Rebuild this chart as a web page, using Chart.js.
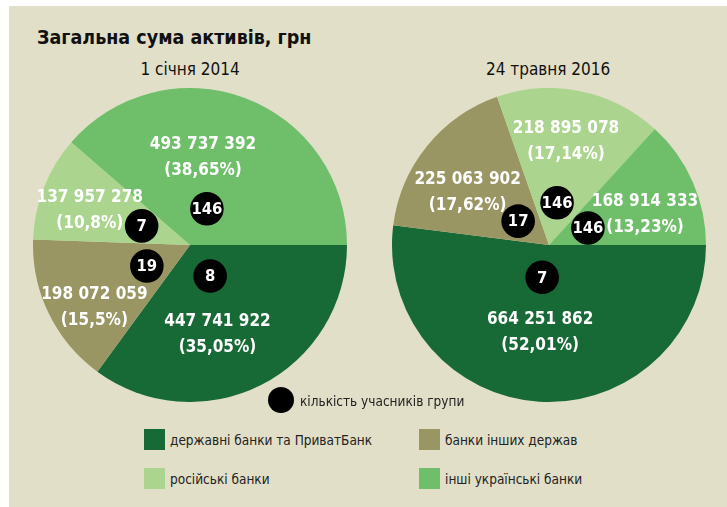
<!DOCTYPE html>
<html>
<head>
<meta charset="utf-8">
<script src="https://cdn.jsdelivr.net/npm/chart.js@4.4.0/dist/chart.umd.min.js"></script>
<style>
  body { margin: 0; background: #fff; width: 727px; height: 507px; overflow: hidden;
         font-family: "DejaVu Sans Condensed", "Liberation Sans Narrow", "DejaVu Sans", sans-serif; }
  #panel { position: absolute; left: 9px; top: 6px; width: 718px; height: 501px; background: #e1dfc8; }
  .txt { position: absolute; white-space: nowrap; color: #111; }
  .sq { position: absolute; width: 21px; height: 21px; }
  canvas { position: absolute; }
</style>
</head>
<body>
<div id="panel"></div>
<div class="txt" style="left:37px; top:28px; font-size:19.5px; line-height:20px; font-weight:bold;">Загальна сума активів, грн</div>
<div class="txt" id="sub1" style="top:61px; font-size:17px; line-height:17px;">1 січня 2014</div>
<div class="txt" id="sub2" style="top:61px; font-size:17px; line-height:17px;">24 травня 2016</div>

<canvas id="pie1" width="314" height="314" style="left:33px; top:88px;"></canvas>
<canvas id="pie2" width="314" height="314" style="left:392px; top:88px;"></canvas>

<div style="position:absolute; left:268px; top:387px; width:26px; height:26px; border-radius:50%; background:#000;"></div>
<div class="txt" style="left:300px; top:394px; font-size:13.5px; line-height:14px; color:#222;">кількість учасників групи</div>
<div id="legend"></div>

<script>
// categories and series
const categories = ['державні банки та ПриватБанк', 'банки інших держав', 'російські банки', 'інші українські банки'];
const colors = ['#176a36', '#9a9664', '#abd58e', '#6fbf6a'];
const assets2014 = [447741922, 198072059, 137957278, 493737392];
const shares2014 = ['35,05%', '15,5%', '10,8%', '38,65%'];
const members2014 = [8, 19, 7, 146];
const assets2016 = [664251862, 225063902, 218895078, 168914333];
const shares2016 = ['52,01%', '17,62%', '17,14%', '13,23%'];
const members2016 = [7, 17, 146, 146];

// where labels / member circles sit: [angle deg clockwise from 3 o'clock, distance px]
const labelPolar1 = [[73, 94], [147, 114], [199, 106], [278.5, 88]];
const circlePolar1 = [[57, 37], [154, 48], [201.6, 52], [295, 40]];
const labelPolar2 = [[95.8, 88], [213, 97], [279.3, 105], [342.6, 100.6]];
const circlePolar2 = [[102, 33], [217.7, 39], [280.8, 43], [336.4, 42.5]];

const FONT = '"DejaVu Sans Condensed", "Liberation Sans Narrow", "DejaVu Sans", sans-serif';

function fmt(n) {
    return String(n).replace(/\B(?=(\d{3})+(?!\d))/g, ' ');
}

// places the subtitles centred over each pie
function centre(id, cx) {
    const el = document.getElementById(id);
    el.style.left = (cx - el.offsetWidth / 2) + 'px';
}
centre('sub1', 190);
centre('sub2', 548);

// legend squares
const legendPos = [[144, 429], [419, 429], [144, 468], [419, 468]];
let html = '';
categories.forEach((c, i) => {
    const p = legendPos[i];
    html += '<div class="sq" style="left:' + p[0] + 'px; top:' + p[1] + 'px; background:' + colors[i] + ';"></div>';
    html += '<div class="txt" style="left:' + (p[0] + 26) + 'px; top:' + (p[1] + 4) + 'px; font-size:13.5px; line-height:14px; color:#222;">' + c + '</div>';
});
document.getElementById('legend').innerHTML = html;

const pieLabels = {
    id: 'pieLabels',
    afterDatasetsDraw(chart, args, opts) {
        const ctx = chart.ctx;
        const arcs = chart.getDatasetMeta(0).data;
        const values = chart.data.datasets[0].data;
        ctx.save();
        ctx.textAlign = 'center';
        ctx.textBaseline = 'middle';
        arcs.forEach((arc, i) => {
            // value + share
            const lp = opts.labelPolar[i];
            const a = lp[0] * Math.PI / 180;
            const x = arc.x + Math.cos(a) * lp[1];
            const y = arc.y + Math.sin(a) * lp[1];
            ctx.fillStyle = '#fff';
            ctx.font = 'bold 17px ' + FONT;
            ctx.fillText(fmt(values[i]), x, y - 13);
            ctx.fillText('(' + opts.shares[i] + ')', x, y + 13);
        });
        arcs.forEach((arc, i) => {
            // member count circle
            const cp = opts.circlePolar[i];
            const a = cp[0] * Math.PI / 180;
            const x = arc.x + Math.cos(a) * cp[1];
            const y = arc.y + Math.sin(a) * cp[1];
            ctx.beginPath();
            ctx.arc(x, y, 16.8, 0, Math.PI * 2);
            ctx.fillStyle = '#000';
            ctx.fill();
            ctx.fillStyle = '#fff';
            ctx.font = 'bold 16.5px ' + FONT;
            ctx.fillText(String(opts.members[i]), x, y + 1);
        });
        ctx.restore();
    }
};

function makePie(id, values, shares, members, labelPolar, circlePolar) {
    return new Chart(document.getElementById(id), {
        type: 'pie',
        data: {
            labels: categories,
            datasets: [{
                data: values,
                backgroundColor: colors,
                borderWidth: 0
            }]
        },
        options: {
            responsive: false,
            animation: false,
            rotation: 90,
            layout: { padding: 0 },
            plugins: {
                legend: { display: false },
                tooltip: { enabled: false },
                pieLabels: { shares: shares, members: members, labelPolar: labelPolar, circlePolar: circlePolar }
            }
        },
        plugins: [pieLabels]
    });
}

makePie('pie1', assets2014, shares2014, members2014, labelPolar1, circlePolar1);
makePie('pie2', assets2016, shares2016, members2016, labelPolar2, circlePolar2);
</script>
</body>
</html>
